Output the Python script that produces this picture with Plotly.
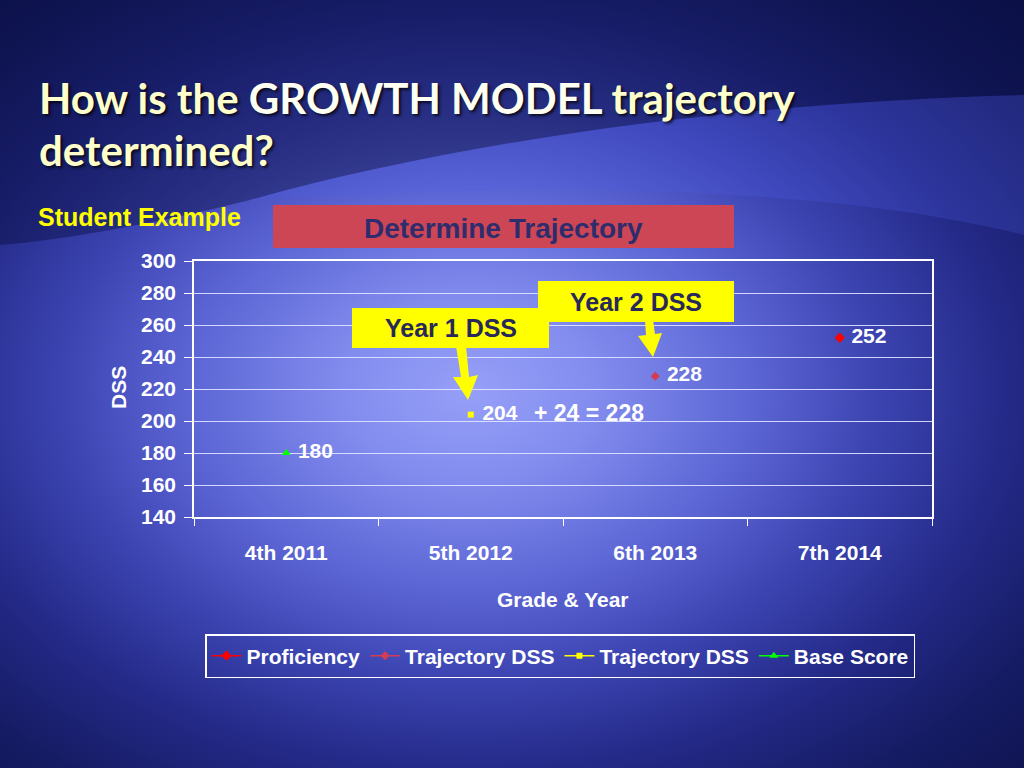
import plotly.graph_objects as go

W, H = 1024, 768

# ---------------- data ----------------
categories = ["4th 2011", "5th 2012", "6th 2013", "7th 2014"]
proficiency = [None, None, None, 252]
trajectory_dss_year2 = [None, None, 228, None]
trajectory_dss_year1 = [None, 204, None, None]
base_score = [180, None, None, None]
y_ticks = [140, 160, 180, 200, 220, 240, 260, 280, 300]
growth_text = "+ 24 = 228"

ARIAL = "Liberation Sans, Arial, sans-serif"
TITLE_FONT = "Lato, Carlito, Calibri, sans-serif"

BG_SCALE = [
    [0.0, "rgb(150,160,248)"],
    [0.12, "rgb(130,140,238)"],
    [0.25, "rgb(95,105,215)"],
    [0.38, "rgb(60,68,178)"],
    [0.5, "rgb(36,42,136)"],
    [0.62, "rgb(22,28,100)"],
    [0.8, "rgb(10,15,70)"],
    [1.0, "rgb(5,10,55)"],
]

fig = go.Figure()

# background (pixel-space axes covering the whole page)
fig.add_trace(go.Scatter(
    x=[-600, 1540, 1540, -600, -600], y=[-370, -370, 1150, 1150, -370],
    fill="toself", mode="lines", line=dict(width=0),
    fillgradient=dict(type="radial", colorscale=BG_SCALE),
    hoverinfo="skip", showlegend=False, xaxis="x", yaxis="y"))

series = [
    ("Proficiency", proficiency, "#FF0000", "diamond", 8, 1.0),
    ("Trajectory DSS", trajectory_dss_year2, "#D23C55", "diamond", 7, 1.0),
    ("Trajectory DSS", trajectory_dss_year1, "#FFFF00", "square", 6, 1.0),
    ("Base Score", base_score, "#00FF00", "triangle-up", 8, 1.0),
]
for name, vals, col, sym, size, op in series:
    fig.add_trace(go.Scatter(
        x=categories, y=vals, name=name, mode="lines+markers",
        line=dict(color=col, width=1.5), opacity=op,
        marker=dict(color=col, symbol=sym, size=size),
        xaxis="x2", yaxis="y2", hoverinfo="skip"))
for name, vals, col, sym, size, op in series:
    fig.add_trace(go.Scatter(
        x=categories, y=vals, mode="text",
        text=[("" if v is None else "\u00a0\u00a0" + str(v)) for v in vals],
        textposition="middle right",
        textfont=dict(color="white", size=21, family=ARIAL, weight=700),
        showlegend=False, xaxis="x2", yaxis="y2", hoverinfo="skip"))

shapes = [
    # dark top overlay / light swoosh
    dict(type="path", xref="x", yref="y", layer="above", line=dict(width=0),
         path="M0,0 L1024,0 L1024,95 C800,100 500,130 250,200 C150,225 60,240 0,245 Z",
         fillcolor="rgba(6,10,55,0.4)"),
    dict(type="path", xref="x", yref="y", layer="above", line=dict(width=0),
         path="M250,200 C500,130 800,100 1024,95 L1024,235 C800,180 500,185 250,200 Z",
         fillcolor="rgba(80,95,235,0.22)"),
    # header box
    dict(type="rect", xref="x", yref="y", layer="above", x0=273, x1=734, y0=205, y1=248,
         fillcolor="rgb(205,70,85)", line=dict(width=0)),
    # Year 2 callout
    dict(type="rect", xref="x", yref="y", layer="above", x0=538, x1=734, y0=281, y1=322,
         fillcolor="#FFFF00", line=dict(width=0)),
    dict(type="path", xref="x", yref="y", layer="above", line=dict(width=0), fillcolor="#FFFF00",
         path="M645,320 L653,320 L655,334 L662,333 L653,357 L638,336 L646,335 Z"),
    # Year 1 callout
    dict(type="rect", xref="x", yref="y", layer="above", x0=352, x1=549, y0=308, y1=348,
         fillcolor="#FFFF00", line=dict(width=0)),
    dict(type="path", xref="x", yref="y", layer="above", line=dict(width=0), fillcolor="#FFFF00",
         path="M456,346 L466,346 L469,377 L478,375 L468,400 L453,377 L461,377 Z"),
]

title_shadow = "2px 2px 3px rgba(0,0,0,0.75)"
annotations = [
    dict(xref="x", yref="y", x=37, y=98, xanchor="left", yanchor="middle", showarrow=False,
         text="How is the <span style='color:#FFFFF4'>GROWTH MODEL</span> trajectory",
         font=dict(family=TITLE_FONT, size=42, color="#FFFFCC", weight=700, shadow=title_shadow)),
    dict(xref="x", yref="y", x=37, y=150, xanchor="left", yanchor="middle", showarrow=False,
         text="determined?",
         font=dict(family=TITLE_FONT, size=42, color="#FFFFCC", weight=700, shadow=title_shadow)),
    dict(xref="x", yref="y", x=36, y=217, xanchor="left", yanchor="middle", showarrow=False,
         text="Student Example",
         font=dict(family=ARIAL, size=25, color="#FFFF00", weight=700)),
    dict(xref="x", yref="y", x=503, y=228, xanchor="center", yanchor="middle", showarrow=False,
         text="Determine Trajectory",
         font=dict(family=ARIAL, size=28, color="rgb(45,45,110)", weight=700)),
    dict(xref="x", yref="y", x=451, y=328, xanchor="center", yanchor="middle", showarrow=False,
         text="Year 1 DSS",
         font=dict(family=ARIAL, size=25, color="rgb(40,40,90)", weight=700)),
    dict(xref="x", yref="y", x=636, y=302, xanchor="center", yanchor="middle", showarrow=False,
         text="Year 2 DSS",
         font=dict(family=ARIAL, size=25, color="rgb(40,40,90)", weight=700)),
    dict(xref="x2", yref="y2", x=categories[1], y=trajectory_dss_year1[1], xanchor="left",
         yanchor="middle", xshift=61, yshift=2, showarrow=False, text=growth_text,
         font=dict(family=ARIAL, size=23, color="white", weight=700)),
    dict(xref="x", yref="y", x=118, y=388, xanchor="center", yanchor="middle", showarrow=False,
         text="DSS", textangle=-90,
         font=dict(family=ARIAL, size=21, color="white", weight=700)),
    dict(xref="x", yref="y", x=563, y=599, xanchor="center", yanchor="middle", showarrow=False,
         text="Grade &amp; Year",
         font=dict(family=ARIAL, size=21, color="white", weight=700)),
]

axis_font = dict(family=ARIAL, size=21, color="white", weight=700)
fig.update_layout(
    width=W, height=H, margin=dict(l=0, r=0, t=0, b=0, pad=0, autoexpand=False),
    paper_bgcolor="rgb(20,25,95)", plot_bgcolor="rgba(0,0,0,0)",
    showlegend=True,
    xaxis=dict(domain=[0, 1], range=[0, W], visible=False, fixedrange=True),
    yaxis=dict(domain=[0, 1], range=[H, 0], visible=False, fixedrange=True),
    xaxis2=dict(domain=[194 / W, 932 / W], anchor="y2", type="category",
                categoryorder="array", categoryarray=categories, range=[-0.5, 3.5],
                showline=True, linecolor="white", linewidth=1.5, mirror=True,
                ticks="outside", tickson="boundaries", ticklen=7, tickcolor="white",
                tickwidth=1.2, showgrid=False, tickfont=axis_font, ticklabelstandoff=16,
                automargin=False),
    yaxis2=dict(domain=[(H - 517) / H, (H - 261) / H], anchor="x2", range=[140, 300],
                tickvals=y_ticks, showgrid=True, gridcolor="rgba(225,228,255,0.9)",
                gridwidth=1.3, showline=True, linecolor="white", linewidth=1.5,
                mirror=True, ticks="outside", ticklen=8, tickcolor="white", tickwidth=1.2,
                zeroline=False, tickfont=axis_font, ticklabelstandoff=4, automargin=False),
    legend=dict(orientation="h", x=205 / W, y=(H - 634) / H, xanchor="left", yanchor="top",
                bgcolor="rgba(0,0,0,0)", bordercolor="white", borderwidth=1.5,
                font=dict(family=ARIAL, size=21, color="white", weight=700),
                itemwidth=30, traceorder="normal"),
    shapes=shapes, annotations=annotations,
)

fig.write_html(
    "out.html",
    config={"displayModeBar": False},
    post_script=(
        "document.documentElement.style.margin='0';"
        "document.body.style.margin='0';document.body.style.padding='0';"
        "document.body.style.overflow='hidden';"
        "var d=document.getElementById('{plot_id}');"
        "d.style.position='fixed';d.style.left='0px';d.style.top='0px';"
    ),
)
